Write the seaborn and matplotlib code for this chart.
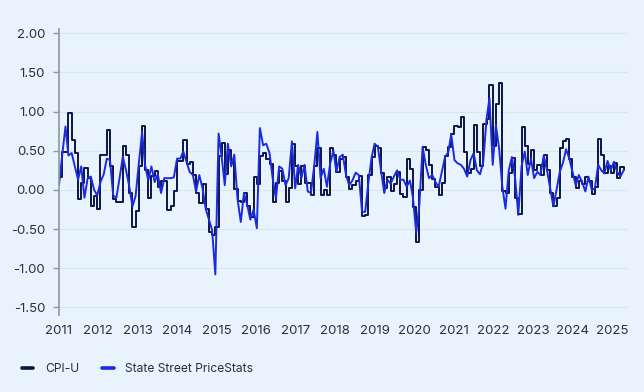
import pandas as pd
import seaborn as sns
import matplotlib.pyplot as plt
import matplotlib.dates as mdates

# mensual, dic-2010 a sep-2025 (% variación mensual)
meses = pd.date_range('2010-12-01', '2025-09-01', freq='MS')

cpi_u = [0.17,
         0.48, 0.49, 0.98, 0.64, 0.47, -0.11, 0.09, 0.28, 0.15, -0.21, -0.08, -0.25,
         0.44, 0.44, 0.76, 0.30, -0.12, -0.15, -0.16, 0.56, 0.45, -0.04, -0.47, -0.27,
         0.30, 0.82, 0.26, -0.10, 0.18, 0.24, 0.04, 0.12, 0.12, -0.26, -0.20, -0.01,
         0.37, 0.37, 0.64, 0.33, 0.35, 0.19, -0.04, -0.17, 0.08, -0.25, -0.54, -0.57,
         -0.47, 0.43, 0.60, 0.20, 0.51, 0.35, 0.01, -0.14, -0.16, -0.04, -0.21, -0.34,
         0.17, 0.08, 0.43, 0.47, 0.40, 0.33, -0.16, 0.09, 0.24, 0.12, -0.16, 0.03,
         0.58, 0.31, 0.08, 0.30, 0.09, 0.09, -0.07, 0.30, 0.53, -0.06, 0.00, -0.06,
         0.54, 0.45, 0.23, 0.40, 0.42, 0.16, 0.01, 0.06, 0.12, 0.18, -0.33, -0.32,
         0.19, 0.42, 0.56, 0.53, 0.21, 0.02, 0.17, -0.01, 0.08, 0.23, -0.05, -0.09,
         0.39, 0.27, -0.22, -0.67, 0.00, 0.55, 0.51, 0.32, 0.14, 0.04, -0.06, 0.09,
         0.43, 0.55, 0.71, 0.82, 0.80, 0.93, 0.48, 0.21, 0.27, 0.83, 0.49, 0.31,
         0.84, 0.91, 1.34, 0.56, 1.10, 1.37, -0.01, -0.04, 0.22, 0.41, -0.10, -0.31,
         0.80, 0.56, 0.33, 0.51, 0.25, 0.32, 0.19, 0.44, 0.25, -0.04, -0.20, -0.10,
         0.54, 0.62, 0.65, 0.39, 0.17, 0.03, 0.12, 0.08, 0.16, 0.12, -0.05, 0.04,
         0.65, 0.44, 0.22, 0.31, 0.21, 0.34, 0.15, 0.29, 0.25]

pricestats = [0.06,
              0.45, 0.81, 0.44, 0.47, 0.30, 0.13, 0.30, -0.10, 0.15, 0.17, 0.00, -0.07,
              0.10, 0.20, 0.40, 0.38, -0.07, -0.10, 0.15, 0.42, 0.25, 0.05, -0.21, -0.08,
              0.34, 0.74, 0.32, 0.12, 0.30, 0.10, 0.20, -0.04, 0.15, 0.15, 0.15, 0.16,
              0.40, 0.40, 0.49, 0.36, 0.23, 0.19, -0.02, 0.19, 0.02, -0.24, -0.38, -0.51,
              -1.08, 0.72, 0.44, 0.06, 0.59, 0.30, 0.45, -0.12, -0.41, -0.04, -0.19, -0.38,
              -0.25, -0.49, 0.79, 0.57, 0.59, 0.47, 0.15, -0.11, 0.30, 0.27, 0.06, 0.15,
              0.62, 0.02, 0.32, 0.15, 0.32, -0.02, -0.04, 0.30, 0.74, 0.15, 0.27, 0.04,
              0.34, 0.50, 0.23, 0.42, 0.45, 0.19, 0.06, 0.12, 0.22, 0.19, -0.28, -0.28,
              0.10, 0.42, 0.59, 0.55, 0.25, -0.04, 0.13, 0.08, 0.17, 0.25, 0.13, 0.13,
              0.04, 0.12, -0.10, -0.55, -0.19, 0.55, 0.32, 0.15, 0.19, 0.10, 0.04, 0.23,
              0.42, 0.48, 0.71, 0.38, 0.34, 0.32, 0.27, 0.17, 0.38, 0.47, 0.25, 0.20,
              0.36, 0.91, 1.17, 0.32, 0.83, 0.53, 0.05, -0.24, 0.25, 0.42, 0.15, -0.32,
              0.30, 0.49, 0.19, 0.40, 0.15, 0.23, 0.19, 0.44, 0.25, 0.02, -0.21, 0.00,
              0.23, 0.35, 0.52, 0.40, 0.23, 0.06, 0.19, 0.10, -0.02, 0.17, 0.00, 0.02,
              0.32, 0.25, 0.21, 0.37, 0.25, 0.36, 0.23, 0.17, 0.25]

y_ticks = [2.0, 1.5, 1.0, 0.5, 0.0, -0.5, -1.0, -1.5]
anios = list(range(2011, 2026))

df = pd.DataFrame({'fecha': meses, 'CPI-U': cpi_u, 'State Street PriceStats': pricestats})

fondo = '#e9f3fd'
texto = '#2a2f45'
sns.set_theme(style='white', rc={'figure.facecolor': fondo, 'axes.facecolor': fondo})
plt.rcParams['font.family'] = ['Inter', 'DejaVu Sans']

fig, ax = plt.subplots(figsize=(6.44, 3.92), dpi=100)
fig.subplots_adjust(left=0.0916, right=0.975, top=0.925, bottom=0.196)

sns.lineplot(x='fecha', y='CPI-U', data=df, drawstyle='steps-post', color='#0c1445',
             linewidth=1.4, label='CPI-U', ax=ax)
sns.lineplot(x='fecha', y='State Street PriceStats', data=df, color='#1a2be0',
             linewidth=1.4, label='State Street PriceStats', ax=ax)

ax.set_xlim(pd.Timestamp('2010-12-01'), pd.Timestamp('2025-10-12'))
ax.set_ylim(-1.6, 2.05)
ax.set_yticks(y_ticks)
ax.set_yticklabels([f'{v:.2f}' for v in y_ticks])
ax.set_xticks([])
ax.set_xlabel('')
ax.set_ylabel('')

# las etiquetas de año van repartidas a paso fijo a lo ancho del eje
inicio = mdates.date2num(pd.Timestamp('2010-11-25'))
paso = 377.4
for k, a in enumerate(anios):
    ax.text(inicio + k * paso, -0.056, str(a), transform=ax.get_xaxis_transform(),
            ha='center', va='center', fontsize=9.5, color=texto, clip_on=False)

ax.grid(axis='y', color='#d8e6f3', linewidth=0.8)
ax.set_axisbelow(True)
for s in ['top', 'right', 'bottom']:
    ax.spines[s].set_visible(False)
ax.spines['left'].set_color('#8e98a6')
ax.spines['left'].set_linewidth(1.2)
ax.tick_params(axis='y', left=True, length=4, width=1, color='#8e98a6', pad=6,
               labelsize=9.5, labelcolor=texto)

leg = ax.legend(loc='center left', bbox_to_anchor=(0.017, 0.059), bbox_transform=fig.transFigure,
                ncol=2, frameon=False, handlelength=0.95, handletextpad=0.95,
                columnspacing=1.95, fontsize=8.7)
for t in leg.get_texts():
    t.set_color(texto)
for ln in leg.get_lines():
    ln.set_linewidth(2.6)

plt.savefig('out.png', dpi=100, facecolor=fondo)
